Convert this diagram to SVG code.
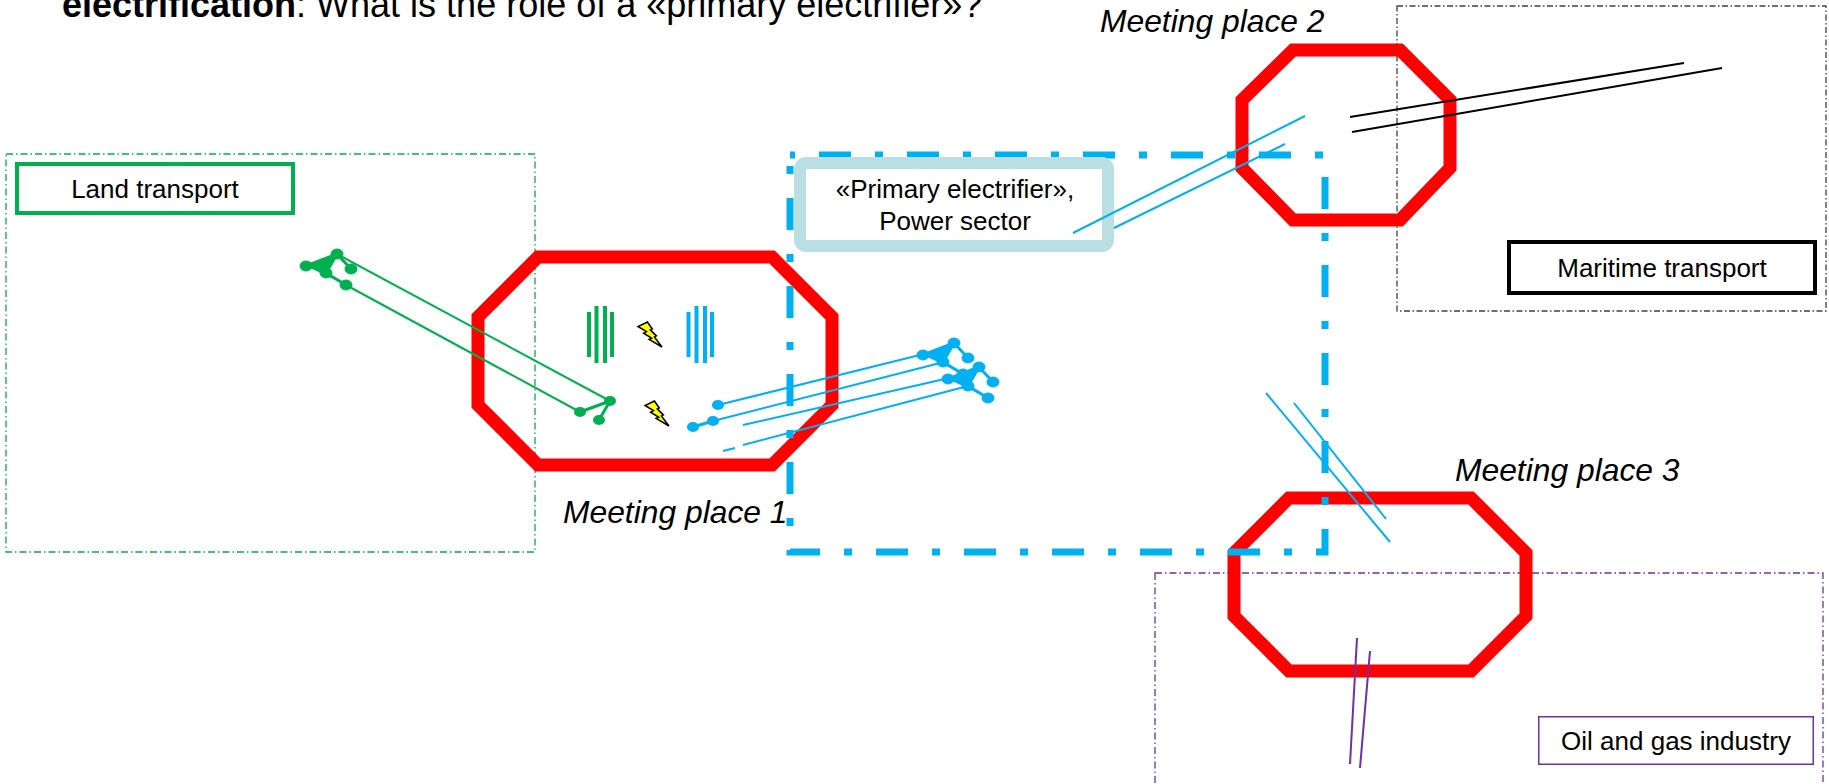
<svg xmlns="http://www.w3.org/2000/svg" width="1829" height="784" viewBox="0 0 1829 784">
<style>
text{font-family:"Liberation Sans",Arial,sans-serif;fill:#000}
.lbl{font-size:26px;text-anchor:middle}
.mp{font-size:31.8px;font-style:italic}
.oct{fill:none;stroke:#FF0000;stroke-width:13;stroke-linejoin:miter}
.g{stroke:#00B050;fill:none}
.b{stroke:#00B0F0;fill:none}
.gn{fill:#00B050}
.bn{fill:#00B0F0}
.bolt{fill:#FFFF00;stroke:#000;stroke-width:1.5;stroke-linejoin:miter}
</style>
<defs>
<polygon id="bolt" class="bolt" points="9.4,0 14.3,7 12.3,7.9 18.4,13.9 16.4,14.9 24,25 11.1,17.3 13.6,16.2 5.6,11.2 8.5,9.7 0,4.5"/>
<g id="tree">
<path d="M-31,12 L0,0 L-11,19 L9,31 M0,0 L14,15" stroke-width="3"/>
<ellipse cx="-31" cy="12" rx="6" ry="5"/>
<ellipse cx="0" cy="0" rx="6" ry="5"/>
<ellipse cx="-11" cy="19" rx="6" ry="5"/>
<ellipse cx="14" cy="15" rx="6" ry="5"/>
<ellipse cx="9" cy="31" rx="6" ry="5"/>
</g>
</defs>
<rect width="1829" height="784" fill="#fff"/>

<text x="62" y="17" font-size="36"><tspan font-weight="bold">electrification</tspan>: What is the role of a «primary electrifier»?</text>

<g id="land-area"><rect x="6" y="154" width="529" height="398" fill="none" stroke="#00B050" stroke-width="1.3" stroke-dasharray="7 3 1.5 3"/></g>
<g id="maritime-area"><rect x="1397" y="6" width="429" height="305" fill="none" stroke="#404040" stroke-width="1.3" stroke-dasharray="6 2.5 1.5 2.5"/></g>
<g id="oilgas-area"><rect x="1155" y="573" width="668" height="220" fill="none" stroke="#7030A0" stroke-width="1.3" stroke-dasharray="7 3 1.5 3"/></g>

<g id="meeting-place-1">
<polygon class="oct" points="538,257 772,257 832,317 832,405 772,465 538,465 478,405 478,317"/>
<text class="mp" x="563" y="523">Meeting place 1</text>
</g>
<g id="meeting-place-2">
<polygon class="oct" points="1293,50 1400,50 1450,100 1450,168 1400,220 1293,220 1242,168 1242,100"/>
<text class="mp" x="1100" y="32">Meeting place 2</text>
</g>
<g id="meeting-place-3">
<polygon class="oct" points="1289,498 1471,498 1526,553 1526,616 1471,671 1289,671 1234,616 1234,553"/>
<text class="mp" x="1455" y="481">Meeting place 3</text>
</g>

<g id="power-sector-area"><path d="M790,155 H1325 V552 H790 Z" fill="none" stroke="#00B0F0" stroke-width="7" stroke-dasharray="32 24 8 24" stroke-dashoffset="59"/></g>

<g id="primary-electrifier">
<rect x="800" y="163" width="308" height="83" rx="6" fill="#fff" stroke="#BADFE3" stroke-width="12"/>
<text class="lbl" x="955" y="198">«Primary electrifier»,</text>
<text class="lbl" x="955" y="230">Power sector</text>
</g>
<g id="land-transport">
<rect x="17" y="164" width="276" height="49" fill="#fff" stroke="#00B050" stroke-width="4"/>
<text class="lbl" x="155" y="198">Land transport</text>
</g>
<g id="maritime-transport">
<rect x="1509" y="242" width="306" height="51" fill="#fff" stroke="#000" stroke-width="4"/>
<text class="lbl" x="1662" y="277">Maritime transport</text>
</g>
<g id="oil-gas-industry">
<rect x="1538.75" y="716.75" width="274.5" height="47.5" fill="#fff" stroke="#7030A0" stroke-width="1.5"/>
<text class="lbl" x="1676" y="750">Oil and gas industry</text>
</g>

<g id="icons">
<g fill="#00B050">
<rect x="587" y="312" width="4" height="45"/><rect x="594.5" y="306" width="4" height="57"/><rect x="603" y="306" width="4" height="57"/><rect x="610" y="312" width="4" height="45"/>
</g>
<g fill="#00B0F0">
<rect x="686.5" y="312" width="4" height="45"/><rect x="694.5" y="306" width="4" height="57"/><rect x="703" y="306" width="4" height="57"/><rect x="710" y="312" width="4" height="45"/>
</g>
<use href="#bolt" x="638" y="322"/>
<use href="#bolt" x="645" y="401"/>
</g>

<g id="connectors">
<g class="g" stroke-width="2">
<line x1="337" y1="254" x2="610" y2="401"/>
<line x1="346" y1="285" x2="580" y2="412"/>
</g>
<g class="gn" stroke="#00B050"><use href="#tree" x="337" y="254"/></g>
<g stroke="#00B050" stroke-width="3" fill="none"><path d="M610,401 L580,412 M610,401 L599,420"/></g>
<g fill="#00B050"><ellipse cx="610" cy="401" rx="6" ry="5"/><ellipse cx="580" cy="412" rx="6" ry="5"/><ellipse cx="599" cy="420" rx="6" ry="5"/></g>

<g class="b" stroke-width="2">
<line x1="718" y1="405" x2="924" y2="354"/>
<line x1="713" y1="421" x2="944" y2="362"/>
<line x1="743" y1="425" x2="949" y2="378"/>
<line x1="743" y1="445" x2="968" y2="386"/>
<line x1="723" y1="451" x2="735" y2="448"/>
</g>
<g stroke="#00B0F0" stroke-width="3"><line x1="713" y1="421" x2="693" y2="427"/></g>
<g fill="#00B0F0"><ellipse cx="718" cy="405" rx="6" ry="5"/><ellipse cx="713" cy="421" rx="6" ry="5"/><ellipse cx="693" cy="427" rx="6" ry="5"/></g>
<g class="bn" stroke="#00B0F0"><use href="#tree" x="954" y="343"/><use href="#tree" x="979" y="367"/></g>

<g class="b" stroke-width="2">
<line x1="1073" y1="233" x2="1305" y2="116"/>
<line x1="1114" y1="228" x2="1285" y2="144"/>
<line x1="1266" y1="393" x2="1390" y2="542"/>
<line x1="1294" y1="403" x2="1386" y2="519"/>
</g>
<g stroke="#000" stroke-width="2">
<line x1="1350" y1="117" x2="1684" y2="63"/>
<line x1="1352" y1="132" x2="1722" y2="68"/>
</g>
<g stroke="#7030A0" stroke-width="2">
<line x1="1357" y1="638" x2="1350" y2="764"/>
<line x1="1370" y1="651" x2="1360" y2="768"/>
</g>
</g>
</svg>
